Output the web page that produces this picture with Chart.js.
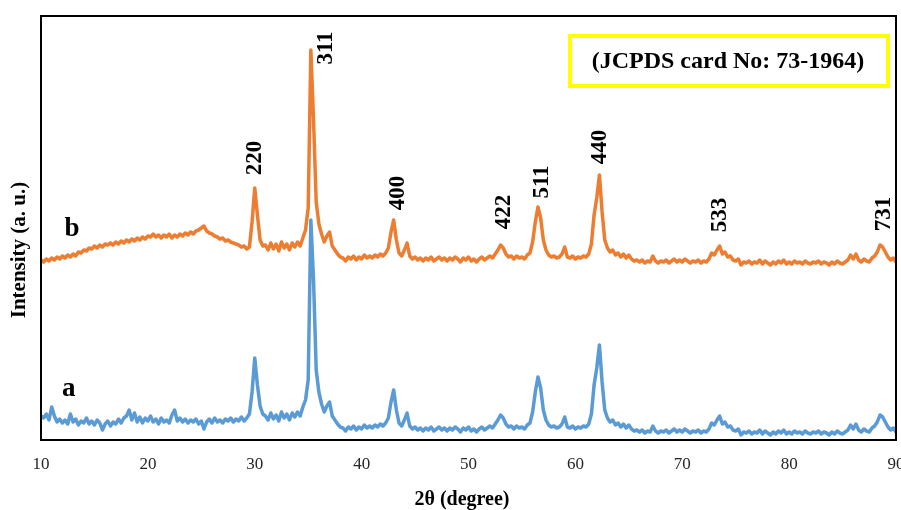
<!DOCTYPE html>
<html>
<head>
<meta charset="utf-8">
<script src="https://cdn.jsdelivr.net/npm/chart.js@4.4.1/dist/chart.umd.min.js"></script>
<style>
  html, body { margin: 0; padding: 0; background: #fff; }
</style>
</head>
<body>
<canvas id="xrd" width="901" height="510"></canvas>
<script>
// 2θ sampling: 10° to 90° every 0.25°
const thetaStart = 10;
const thetaStep = 0.25;

// sample a (blue), 4 values per degree
const intensityA = [
  24, 22, 26, 20,   33, 24, 18, 21,   17, 20, 16, 26,   18, 21, 15, 19,   17, 22, 16, 19,
  15, 20, 17, 10,   16, 19, 14, 18,   16, 21, 17, 22,   24, 30, 20, 27,   18, 23, 17, 22,
  19, 24, 18, 21,   16, 22, 18, 20,   17, 25, 30, 19,   22, 18, 21, 17,   20, 18, 21, 16,
  19, 11, 18, 21,   17, 22, 18, 20,   17, 21, 19, 22,   18, 21, 19, 23,   19, 22, 26, 48,
  82, 55, 34, 26,   24, 20, 27, 21,   25, 19, 28, 22,   26, 20, 27, 23,   28, 24, 33, 40,
  60, 220, 160, 70, 48, 36, 28, 34,   38, 24, 20, 16,   13, 12, 9, 13,    11, 14, 10, 13,
  11, 15, 12, 14,   12, 15, 13, 16,   14, 17, 22, 38,   50, 30, 17, 14,   20, 27, 14, 11,
  13, 10, 12, 9,    12, 10, 13, 9,    11, 13, 10, 12,   9, 12, 10, 13,    11, 8, 12, 10,
  13, 9, 11, 8,     11, 13, 10, 12,   14, 12, 16, 20,   25, 22, 16, 13,   14, 11, 14, 12,
  13, 11, 15, 17,   28, 48, 63, 52,   30, 20, 15, 13,   14, 12, 13, 16,   23, 13, 12, 14,
  11, 13, 12, 14,   13, 16, 26, 55,   72, 95, 58, 30,   22, 18, 20, 15,   17, 13, 16, 12,
  15, 11, 9, 10,    8, 10, 7, 9,      8, 14, 9, 7,      9, 8, 10, 7,      9, 11, 8, 10,
  8, 11, 9, 7,      9, 8, 10, 7,      9, 8, 11, 17,     15, 20, 24, 16,   18, 13, 14, 10,
  9, 11, 5, 8,      7, 9, 6, 8,       7, 10, 6, 9,      7, 5, 8, 6,       9, 7, 10, 6,
  8, 6, 9, 7,       8, 6, 9, 7,       6, 8, 7, 9,       6, 8, 7, 5,       8, 6, 9, 7,
  6, 8, 10, 15,     11, 16, 10, 8,    11, 9, 8, 12,     14, 18, 25, 23,   18, 13, 10, 12,
  8
];

// sample b (orange)
const intensityB = [
  180, 178, 181, 179,  182, 180, 183, 181,  184, 182, 185, 183,  186, 184, 188, 187,  190, 189, 192, 191,
  194, 192, 195, 193,  196, 195, 197, 195,  198, 196, 199, 197,  200, 198, 201, 199,  202, 200, 203, 201,
  204, 203, 206, 203,  205, 202, 205, 203,  206, 202, 205, 203,  206, 204, 207, 205,  208, 206, 209, 210,
  212, 214, 209, 207,  206, 204, 203, 201,  202, 199, 200, 198,  197, 196, 195, 193,  194, 191, 193, 218,
  252, 225, 200, 194,  195, 190, 197, 191,  196, 189, 198, 192,  196, 190, 197, 193,  198, 194, 202, 210,
  232, 390, 320, 238,  216, 206, 198, 204,  208, 194, 190, 186,  183, 182, 179, 183,  181, 184, 180, 183,
  181, 185, 182, 184,  182, 185, 183, 186,  184, 187, 192, 208,  220, 200, 187, 184,  190, 197, 184, 181,
  183, 180, 182, 179,  182, 180, 183, 179,  181, 183, 180, 182,  179, 182, 180, 183,  181, 178, 182, 180,
  183, 179, 181, 178,  181, 183, 180, 182,  184, 182, 186, 190,  195, 192, 186, 183,  184, 181, 184, 182,
  183, 181, 185, 187,  198, 218, 233, 222,  200, 190, 185, 183,  184, 182, 183, 186,  193, 183, 182, 184,
  181, 183, 182, 184,  183, 186, 196, 225,  242, 265, 228, 200,  192, 188, 190, 185,  187, 183, 186, 182,
  185, 181, 179, 180,  178, 180, 177, 179,  178, 184, 179, 177,  179, 178, 180, 177,  179, 181, 178, 180,
  178, 181, 179, 177,  179, 178, 180, 177,  179, 178, 181, 187,  185, 190, 194, 186,  188, 183, 184, 180,
  179, 181, 175, 178,  177, 179, 176, 178,  177, 180, 176, 179,  177, 175, 178, 176,  179, 177, 180, 176,
  178, 176, 179, 177,  178, 176, 179, 177,  176, 178, 177, 179,  176, 178, 177, 175,  178, 176, 179, 177,
  176, 178, 180, 185,  181, 186, 180, 178,  181, 179, 178, 182,  184, 188, 195, 193,  188, 183, 180, 182,
  178
];

const xTicks = [10, 20, 30, 40, 50, 60, 70, 80, 90];

// Miller indices over the peaks
const peakLabels = ['220', '311', '400', '422', '511', '440', '533', '731'];
const peakLabelX = [30.05, 36.7, 43.45, 53.3, 56.85, 62.27, 73.5, 88.87];
const peakLabelY = [282, 392, 247, 228, 258, 293, 225, 226];

// sample tags
const seriesTags = ['a', 'b'];
const seriesTagX = [12.6, 12.9];
const seriesTagY = [44, 204];

const cardText = '(JCPDS card No: 73-1964)';

const twoTheta = intensityA.map((_, i) => thetaStart + i * thetaStep);
const pts = vals => vals.map((v, i) => ({ x: twoTheta[i], y: v }));

const SERIF = '"Liberation Serif", "Times New Roman", serif';

const decor = {
  id: 'decor',
  afterDraw(chart){
    const { ctx, chartArea: a, scales: { x, y } } = chart;
    ctx.save();

    // frame
    ctx.strokeStyle = '#000';
    ctx.lineWidth = 2;
    ctx.strokeRect(a.left, a.top, a.right - a.left, a.bottom - a.top);

    ctx.fillStyle = '#000';
    ctx.textAlign = 'center';
    ctx.textBaseline = 'middle';

    // peak labels, rotated
    ctx.font = 'bold 23px ' + SERIF;
    peakLabels.forEach((t, i) => {
      ctx.save();
      ctx.translate(x.getPixelForValue(peakLabelX[i]), y.getPixelForValue(peakLabelY[i]));
      ctx.rotate(-Math.PI / 2);
      ctx.fillText(t, 0, 0);
      ctx.restore();
    });

    // a / b
    ctx.font = 'bold 27px ' + SERIF;
    ctx.textBaseline = 'alphabetic';
    seriesTags.forEach((t, i) => {
      ctx.fillText(t, x.getPixelForValue(seriesTagX[i]), y.getPixelForValue(seriesTagY[i]));
    });

    // card box
    ctx.strokeStyle = '#FFFF00';
    ctx.lineWidth = 4;
    ctx.strokeRect(570, 36, 318, 50);
    ctx.font = 'bold 24px ' + SERIF;
    ctx.textBaseline = 'middle';
    ctx.fillText(cardText, 728, 62);

    // axis titles
    ctx.font = 'bold 20px ' + SERIF;
    ctx.fillText('2θ (degree)', 462, 500);
    ctx.save();
    ctx.translate(20, 250);
    ctx.rotate(-Math.PI / 2);
    ctx.font = 'bold 21px ' + SERIF;
    ctx.fillText('Intensity (a. u.)', 0, 0);
    ctx.restore();

    ctx.restore();
  }
};

new Chart(document.getElementById('xrd'), {
  type: 'line',
  data: {
    datasets: [
      { label: 'a', data: pts(intensityA), borderColor: '#5B9BD5', backgroundColor: '#5B9BD5' },
      { label: 'b', data: pts(intensityB), borderColor: '#ED7D31', backgroundColor: '#ED7D31' },
    ]
  },
  options: {
    responsive: false,
    animation: false,
    layout: { autoPadding: false, padding: { left: 0, top: 16, right: 5, bottom: 0 } },
    plugins: { legend: { display: false }, tooltip: { enabled: false } },
    elements: {
      point: { radius: 0 },
      line: { borderWidth: 3.5, tension: 0, borderJoinStyle: 'round', borderCapStyle: 'round' }
    },
    scales: {
      x: {
        type: 'linear', min: 10, max: 90,
        grid: { display: false, drawTicks: false },
        border: { display: false },
        afterBuildTicks: s => { s.ticks = xTicks.map(v => ({ value: v })); },
        ticks: {
          padding: 14, maxRotation: 0, autoSkip: false, color: '#262626',
          font: { family: SERIF, size: 17 }
        },
        afterFit: s => { s.height = 70; s.paddingLeft = 0; s.paddingRight = 0; }
      },
      y: {
        min: 0, max: 424,
        grid: { display: false },
        border: { display: false },
        ticks: { display: false },
        afterFit: s => { s.width = 41; s.paddingTop = 0; s.paddingBottom = 0; }
      }
    }
  },
  plugins: [decor]
});
</script>
</body>
</html>
